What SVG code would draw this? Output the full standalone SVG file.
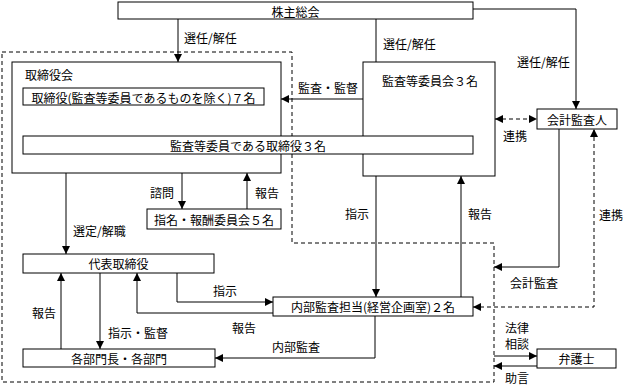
<svg xmlns="http://www.w3.org/2000/svg" width="624" height="385" viewBox="0 0 624 385">
<style>
text{font-family:"Noto Sans CJK JP","Noto Sans",sans-serif;font-size:12px;fill:#000;dominant-baseline:central}
.c{text-anchor:middle}
.box{fill:#fff;stroke:#000;stroke-width:1}
.ln{fill:none;stroke:#000;stroke-width:1}
.ds{fill:none;stroke:#000;stroke-width:1;stroke-dasharray:4,3}
</style>
<defs>
<marker id="ah" markerUnits="userSpaceOnUse" markerWidth="8" markerHeight="8" refX="8" refY="4" orient="auto-start-reverse" viewBox="0 0 8 8"><path d="M0,0 L8,4 L0,8 z" fill="#000" stroke="none"/></marker>
</defs>
<g id="region">
<path class="ds" d="M2,52 H292 V243 H494 V382 H2 Z"/>
</g>
<g id="connectors">
<path class="ln" d="M178,19 V62" marker-end="url(#ah)"/>
<path class="ln" d="M376,19 V136" marker-end="url(#ah)"/>
<path class="ln" d="M473,9 H576 V109" marker-end="url(#ah)"/>
<path class="ln" d="M363,99 H281" marker-end="url(#ah)"/>
<path class="ds" d="M495,119 H537" marker-start="url(#ah)" marker-end="url(#ah)"/>
<path class="ln" d="M559,129 V267 H494" marker-end="url(#ah)"/>
<path class="ds" d="M473,307 H594 V129" marker-start="url(#ah)" marker-end="url(#ah)"/>
<path class="ln" d="M376,176 V297" marker-end="url(#ah)"/>
<path class="ln" d="M461,297 V176" marker-end="url(#ah)"/>
<path class="ln" d="M182,173 V209" marker-end="url(#ah)"/>
<path class="ln" d="M247,209 V173" marker-end="url(#ah)"/>
<path class="ln" d="M66,173 V254" marker-end="url(#ah)"/>
<path class="ln" d="M177,273 V302 H273" marker-end="url(#ah)"/>
<path class="ln" d="M273,313 H137 V273" marker-end="url(#ah)"/>
<path class="ln" d="M375,316 V358 H215" marker-end="url(#ah)"/>
<path class="ln" d="M61,349 V273" marker-end="url(#ah)"/>
<path class="ln" d="M100,273 V349" marker-end="url(#ah)"/>
<path class="ln" d="M494,356 H537" marker-end="url(#ah)"/>
<path class="ln" d="M537,366 H494" marker-end="url(#ah)"/>
<text x="184" y="37">選任/解任</text>
<text x="383" y="43">選任/解任</text>
<text x="517" y="61">選任/解任</text>
<text x="298" y="87">監査・監督</text>
<text x="503" y="135">連携</text>
<text x="510" y="282">会計監査</text>
<text x="599" y="214">連携</text>
<text x="345" y="213">指示</text>
<text x="468" y="213">報告</text>
<text x="150" y="192">諮問</text>
<text x="255" y="192">報告</text>
<text x="73" y="230">選定/解職</text>
<text x="213" y="290">指示</text>
<text x="232" y="327">報告</text>
<text x="272" y="346">内部監査</text>
<text x="32" y="312">報告</text>
<text x="108" y="332">指示・監督</text>
<text x="505" y="327">法律</text>
<text x="505" y="343">相談</text>
<text x="505" y="377">助言</text>
</g>
<g id="shareholders"><rect class="box" x="118" y="2" width="355" height="17"/><text class="c" x="295.5" y="11">株主総会</text></g>
<g id="board"><rect class="box" x="12" y="62" width="269" height="111"/><text x="25" y="74">取締役会</text></g>
<g id="directors7"><rect class="box" x="23" y="88" width="241" height="17"/><text class="c" x="143.5" y="97">取締役(監査等委員であるものを除く)７名</text></g>
<g id="auditcommittee"><rect class="box" x="363" y="62" width="132" height="114"/><text x="382" y="80">監査等委員会３名</text></g>
<g id="auditdirectors"><rect class="box" x="23" y="136" width="450" height="18"/><text class="c" x="248" y="145">監査等委員である取締役３名</text></g>
<g id="accountingauditor"><rect class="box" x="537" y="109" width="80" height="20"/><text class="c" x="577" y="119">会計監査人</text></g>
<g id="nomination"><rect class="box" x="147" y="209" width="134" height="20"/><text class="c" x="214" y="219">指名・報酬委員会５名</text></g>
<g id="representative"><rect class="box" x="23" y="254" width="191" height="19"/><text class="c" x="118.5" y="263.5">代表取締役</text></g>
<g id="internalaudit"><rect class="box" x="273" y="297" width="200" height="19"/><text class="c" x="373" y="306.5">内部監査担当(経営企画室)２名</text></g>
<g id="departments"><rect class="box" x="23" y="349" width="192" height="18"/><text class="c" x="119" y="358">各部門長・各部門</text></g>
<g id="lawyer"><rect class="box" x="537" y="349" width="79" height="19"/><text class="c" x="576.5" y="358.5">弁護士</text></g>
</svg>
